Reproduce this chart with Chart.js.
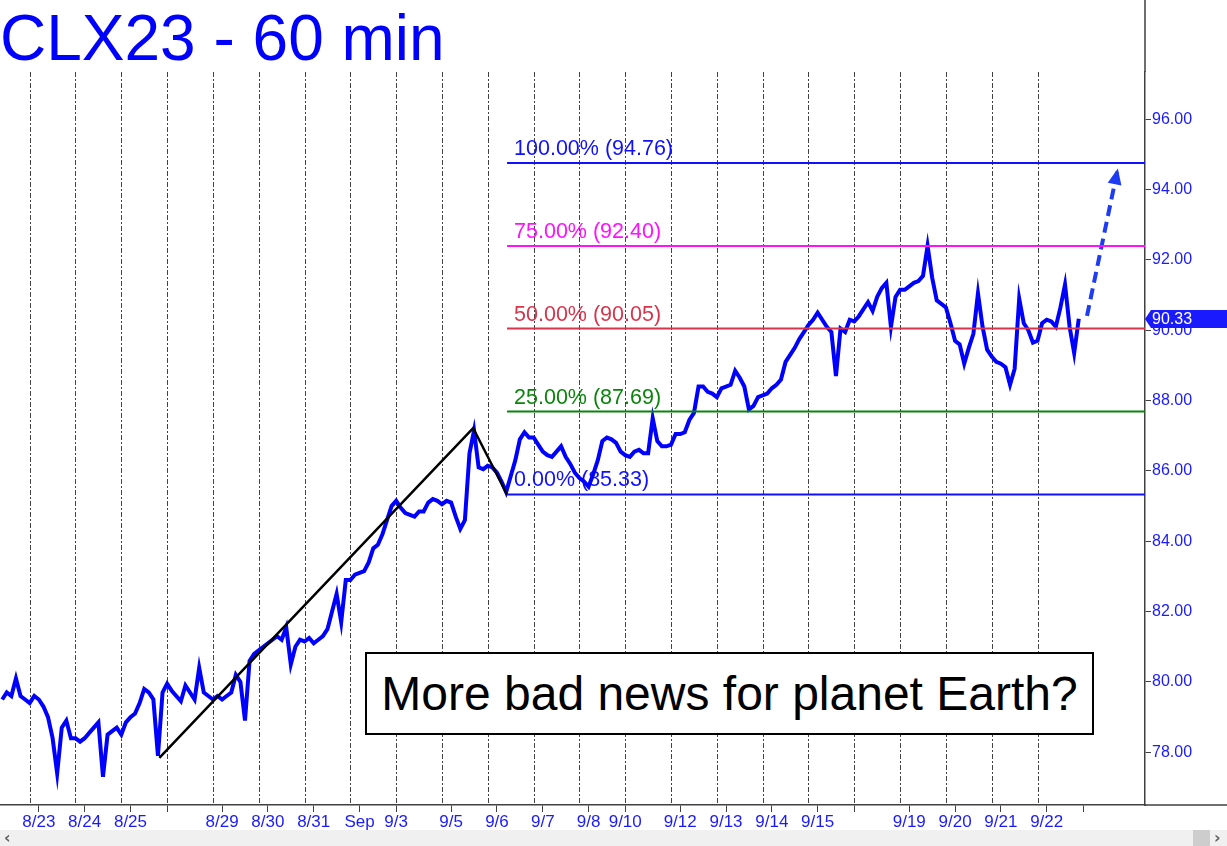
<!DOCTYPE html>
<html>
<head>
<meta charset="utf-8">
<script src="https://cdn.jsdelivr.net/npm/chart.js@4.4.0/dist/chart.umd.min.js"></script>
<style>
  body { margin: 0; background: #fff; }
  #wrap { position: relative; width: 1227px; height: 846px; overflow: hidden; font-family: 'Liberation Sans', Arial, sans-serif; }
  #chart { position: absolute; left: 0; top: 0; }
  #note { position: absolute; left: 365px; top: 652px; width: 729px; height: 83px; box-sizing: border-box;
          border: 2px solid #000; background: #fff; color: #000; font-size: 48px; line-height: 79px; text-align: center; white-space: nowrap; }
  #scroll { position: absolute; left: 0; top: 830px; width: 1227px; height: 16px; background: #f0f0f0; }
  #scroll .arr { position: absolute; top: -2px; font: bold 16px 'DejaVu Sans', sans-serif; color: #606060; }
  #scroll .thumb { position: absolute; left: 1193px; top: 0; width: 17px; height: 16px; background: #cdcdcd; }
</style>
</head>
<body>
<div id="wrap">
  <canvas id="chart" width="1227" height="830"></canvas>
  <div id="note">More bad news for planet Earth?</div>
  <div id="scroll"><span class="arr" style="left:4px">&lsaquo;</span><div class="thumb"></div><span class="arr" style="left:1214px">&rsaquo;</span></div>
</div>
<script>
// x unit = one trading session (dashed line k = session start)
var X_MIN = -0.648;
var X_MAX = 24.346;

var tickPos  = [0.2, 1.2, 2.2, 3.0, 4.2, 5.2, 6.2, 7.2, 8.0, 9.2, 10.2, 11.2, 12.2, 13.0, 14.2, 15.2, 16.2, 17.2, 18.0, 19.2, 20.2, 21.2, 22.2, 23.0];
var tickText = ['8/23', '8/24', '8/25', '', '8/29', '8/30', '8/31', 'Sep', '9/3', '9/5', '9/6', '9/7', '9/8', '9/10', '9/12', '9/13', '9/14', '9/15', '', '9/19', '9/20', '9/21', '9/22', ''];
var sessionStarts = [0, 1, 2, 3, 4, 5, 6, 7, 8, 9, 10, 11, 12, 13, 14, 15, 16, 17, 18, 19, 20, 21, 22];

var yTicks = [78, 80, 82, 84, 86, 88, 90, 92, 94, 96];

// price, sampled every 0.1 session starting at -0.6
var priceStart = -0.6;
var priceStep = 0.1;
var price = [
  79.5, 79.7, 79.6, 80.1, 79.6, 79.5, 79.4, 79.6, 79.5, 79.3,
  79.0, 78.4, 77.4, 78.7, 78.9, 78.4, 78.4, 78.3, 78.4, 78.55,
  78.7, 78.85, 77.3, 78.5, 78.6, 78.7, 78.5, 78.85, 79.0, 79.1,
  79.4, 79.8, 79.7, 79.5, 77.9, 79.7, 79.95, 79.75, 79.6, 79.45,
  79.9, 79.7, 79.5, 80.4, 79.7, 79.6, 79.5, 79.6, 79.5, 79.6,
  79.7, 80.2, 80.0, 78.9, 80.6, 80.8, 80.9, 81.0, 81.1, 81.2,
  81.3, 81.2, 81.55, 80.5, 81.0, 81.2, 81.15, 81.25, 81.1, 81.2,
  81.3, 81.5, 82.0, 82.5, 81.7, 82.9, 82.9, 83.05, 83.1, 83.15,
  83.4, 83.8, 83.9, 84.2, 84.6, 85.0, 85.15, 84.95, 84.8, 84.75,
  84.7, 84.85, 84.85, 85.1, 85.2, 85.15, 85.05, 85.15, 85.1, 84.7,
  84.35, 84.6, 86.5, 87.15, 86.1, 86.05, 86.15, 86.1, 85.95, 85.7,
  85.4, 85.85, 86.3, 86.9, 87.1, 86.95, 86.95, 86.75, 86.55, 86.45,
  86.4, 86.55, 86.7, 86.4, 86.2, 85.95, 85.8, 85.7, 85.55, 85.9,
  86.3, 86.85, 86.95, 86.9, 86.8, 86.55, 86.45, 86.4, 86.55, 86.6,
  86.5, 86.5, 87.5, 86.85, 86.7, 86.7, 86.75, 87.05, 87.05, 87.1,
  87.45, 87.65, 88.4, 88.4, 88.25, 88.2, 88.1, 88.35, 88.4, 88.45,
  88.85, 88.65, 88.4, 87.75, 87.85, 88.1, 88.15, 88.2, 88.35, 88.45,
  88.6, 89.1, 89.3, 89.5, 89.75, 89.95, 90.15, 90.3, 90.5, 90.3,
  90.1, 89.95, 88.7, 90.05, 89.95, 90.3, 90.25, 90.4, 90.6, 90.8,
  90.55, 90.95, 91.2, 91.35, 90.1, 90.95, 91.15, 91.15, 91.25, 91.35,
  91.4, 91.55, 92.4, 91.5, 90.85, 90.75, 90.65, 90.2, 89.7, 89.6,
  89.05, 89.5, 89.9, 91.05, 90.1, 89.45, 89.25, 89.1, 89.05, 88.95,
  88.45, 88.9, 90.9, 90.2, 90.0, 89.65, 89.7, 90.2, 90.3, 90.25,
  90.1, 90.65, 91.3, 90.1, 89.35, 90.33
];
var lastPrice = 90.33;

// retracement levels
var fibFrom = 10.42;
var fibPct = ['100.00%', '75.00%', '50.00%', '25.00%', '0.00%'];
var fibVal = [94.76, 92.40, 90.05, 87.69, 85.33];
var fibColor = ['#1010ff', '#ff10ff', '#d8344c', '#0a840a', '#1010ff'];

// ABC swing
var abcX = [2.83, 9.68, 10.42];
var abcY = [77.84, 87.22, 85.33];

// projected move
var arrowX = [23.08, 23.74];
var arrowY = [90.41, 94.52];

var FONT = "'Liberation Sans', Arial, sans-serif";

var extras = {
    id: 'extras',
    beforeDatasetsDraw: function(chart) {
        var c = chart.ctx, xs = chart.scales.x, ys = chart.scales.y, a = chart.chartArea;
        c.save();
        c.strokeStyle = '#444444';
        c.lineWidth = 1;
        c.setLineDash([5, 2, 2, 2]);
        sessionStarts.forEach(function(k) {
            var px = Math.round(xs.getPixelForValue(k)) + 0.5;
            c.beginPath();
            c.moveTo(px, a.top);
            c.lineTo(px, a.bottom);
            c.stroke();
        });
        c.setLineDash([]);
        c.font = '21.5px ' + FONT;
        c.textBaseline = 'alphabetic';
        fibVal.forEach(function(v, i) {
            c.fillStyle = fibColor[i];
            c.fillText(fibPct[i] + ' (' + v.toFixed(2) + ')', xs.getPixelForValue(fibFrom) + 7, ys.getPixelForValue(v) - 8);
        });
        c.restore();
    },
    afterDraw: function(chart) {
        var c = chart.ctx, xs = chart.scales.x, ys = chart.scales.y, a = chart.chartArea;
        c.save();
        // axis lines reaching the canvas edges
        c.strokeStyle = '#404040';
        c.lineWidth = 1.5;
        c.beginPath();
        c.moveTo(a.right, 0);
        c.lineTo(a.right, a.top);
        c.moveTo(a.right, a.bottom);
        c.lineTo(chart.width, a.bottom);
        c.stroke();

        // arrow head
        var x0 = xs.getPixelForValue(arrowX[0]), y0 = ys.getPixelForValue(arrowY[0]);
        var x1 = xs.getPixelForValue(arrowX[1]), y1 = ys.getPixelForValue(arrowY[1]);
        var ang = Math.atan2(y1 - y0, x1 - x0);
        c.fillStyle = '#1f3cf5';
        c.beginPath();
        c.moveTo(x1 + Math.cos(ang) * 3, y1 + Math.sin(ang) * 3);
        c.lineTo(x1 - Math.cos(ang) * 13 + Math.sin(ang) * 7, y1 - Math.sin(ang) * 13 - Math.cos(ang) * 7);
        c.lineTo(x1 - Math.cos(ang) * 13 - Math.sin(ang) * 7, y1 - Math.sin(ang) * 13 + Math.cos(ang) * 7);
        c.closePath();
        c.fill();

        // last price tag
        var py = Math.round(ys.getPixelForValue(lastPrice));
        c.fillStyle = '#1a1aff';
        c.beginPath();
        c.moveTo(a.right, py);
        c.lineTo(a.right + 6, py - 9);
        c.lineTo(chart.width, py - 9);
        c.lineTo(chart.width, py + 9);
        c.lineTo(a.right + 6, py + 9);
        c.closePath();
        c.fill();
        c.fillStyle = '#ffffff';
        c.font = '16px ' + FONT;
        c.textBaseline = 'middle';
        c.fillText(lastPrice.toFixed(2), a.right + 7, py + 1);
        c.restore();
    }
};

var pricePts = price.map(function(p, i) { return { x: priceStart + i * priceStep, y: p }; });

var datasets = [];
fibVal.forEach(function(v, i) {
    datasets.push({
        data: [{ x: fibFrom, y: v }, { x: X_MAX, y: v }],
        borderColor: fibColor[i],
        borderWidth: 2
    });
});
datasets.push({
    data: arrowX.map(function(x, i) { return { x: x, y: arrowY[i] }; }),
    borderColor: '#1f3cf5',
    borderWidth: 4,
    borderDash: [11, 6]
});
datasets.push({
    data: abcX.map(function(x, i) { return { x: x, y: abcY[i] }; }),
    borderColor: '#000000',
    borderWidth: 2.5
});
datasets.push({
    data: pricePts,
    borderColor: '#0000ff',
    borderWidth: 4
});

var myChart = new Chart(document.getElementById('chart').getContext('2d'), {
    type: 'line',
    data: { datasets: datasets },
    plugins: [extras],
    options: {
        responsive: false,
        animation: false,
        devicePixelRatio: 1,
        layout: { padding: 0 },
        elements: { point: { radius: 0 }, line: { tension: 0 } },
        plugins: {
            legend: { display: false },
            tooltip: { enabled: false },
            title: {
                display: true,
                text: 'CLX23 - 60 min',
                align: 'start',
                color: '#0000ff',
                font: { family: FONT, size: 64, weight: 'normal', lineHeight: 0.9375 },
                padding: { top: 12, bottom: 0 }
            }
        },
        scales: {
            x: {
                type: 'linear',
                position: 'bottom',
                min: X_MIN,
                max: X_MAX,
                afterBuildTicks: function(scale) {
                    scale.ticks = tickPos.map(function(v) { return { value: v }; });
                },
                afterFit: function(scale) { scale.height = 25; },
                ticks: {
                    autoSkip: false,
                    maxRotation: 0,
                    padding: 0,
                    color: '#1a1aff',
                    font: { family: FONT, size: 17 },
                    callback: function(v, i) { return tickText[i]; }
                },
                grid: { drawOnChartArea: false, tickLength: 7, color: '#404040' },
                border: { color: '#404040', width: 1.5 }
            },
            y: {
                type: 'linear',
                position: 'right',
                min: 76.5,
                max: 97.345,
                afterBuildTicks: function(scale) {
                    scale.ticks = yTicks.map(function(v) { return { value: v }; });
                },
                afterFit: function(scale) { scale.width = 82; },
                ticks: {
                    padding: 1,
                    color: '#1a1aff',
                    font: { family: FONT, size: 16 },
                    callback: function(v) { return Number(v).toFixed(2); }
                },
                grid: { drawOnChartArea: false, tickLength: 6, color: '#404040' },
                border: { color: '#404040', width: 1.5 }
            }
        }
    }
});
</script>
</body>
</html>
